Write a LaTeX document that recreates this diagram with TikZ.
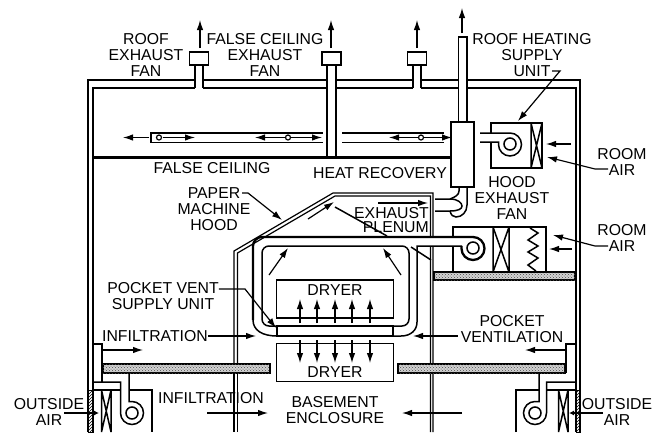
\documentclass[tikz,border=0pt]{standalone}
\usepackage{fontspec}
\setmainfont{Liberation Sans}
\usetikzlibrary{arrows.meta,patterns}
\tikzset{
    wall/.style={line width=1.5pt, line join=miter},
    thinwall/.style={line width=1.2pt},
    heavy/.style={line width=2.3pt},
    lbl/.style={align=center, inner sep=0pt, font=\fontsize{15.8}{16}\selectfont},
    airarrow/.style={line width=1.2pt, -{Latex[length=10pt,width=6.5pt]}},
    smallarrow/.style={line width=1.2pt, -{Latex[length=5pt,width=5pt]}},
    shelfbox/.style={draw, line width=1.5pt, fill=gray!35, postaction={pattern=crosshatch dots, pattern color=black!70}},
    hatchbox/.style={pattern=north east lines, line width=1pt, draw},
    ringnode/.style={draw, circle, line width=1.5pt, minimum size=12pt, inner sep=0pt},
    roofbox/.style={draw, line width=1.5pt, fill=white, minimum width=19pt, minimum height=13pt, inner sep=0pt},
    dryerbox/.style={draw, line width=1.5pt, minimum width=117pt, minimum height=38pt, inner sep=0pt},
}
\newcommand{\airflow}[3]{\coordinate (#1a) at (#2); \coordinate (#1b) at (#3); \draw[airarrow] (#1a) -- (#1b);}
\begin{document}
\begin{tikzpicture}[x=1pt, y=-1pt]
        \useasboundingbox (0,0) rectangle (653,432);
        \def\r{11.5}
        % Building shell
        \draw[wall] (88,432) -- (88,80) -- (195,80) (203,80) -- (327,80) (336,80) -- (413,80) (421,80) -- (458,80) (467,80) -- (580,80) -- (580,432);
        \draw[wall] (93,432) -- (93,88) -- (195,88) (203,88) -- (327,88) (336,88) -- (413,88) (421,88) -- (458,88) (467,88) -- (576,88) -- (576,432);
        % False ceiling and ducts
        \draw[heavy] (93,157.5) -- (451,157.5);
        \draw[heavy] (322.5,133) -- (151,133) -- (151,142.5);
        \draw[wall] (151,142.5) -- (322.5,142.5);
        \draw[heavy] (342,133) -- (444,133);
        \draw[wall] (342,142.5) -- (444,142.5);
        % Roof fans
        \foreach \x/\n in {199/A, 417/C} {
            \node[roofbox] (fan\n) at (\x,58.5) {};
            \draw[wall] (\x-4,65) -- (\x-4,88) (\x+4,65) -- (\x+4,88);
        }
        \node[roofbox] (fanB) at (331.5,58.5) {};
        \draw[heavy] (327,65) -- (327,157.5) (336,65) -- (336,157.5);
        % Heat recovery stack
        \draw[wall] (458.5,122) -- (458.5,37) -- (467,37) -- (467,122);
        \draw[wall, fill=white] (451,122) rectangle (474,187);
        \draw[heavy] (474,122) -- (474,187) -- (451,187);
        % Bend down to the plenum
        \draw[wall] (435,199) -- (450,199) .. controls (458,199) and (462,203) .. (462,206) .. controls (462,209) and (458,211) .. (450,211) -- (435,211);
        \draw[wall] (459,187) -- (459,191) .. controls (459,195) and (455,197) .. (450,199);
        \draw[wall] (467,187) -- (467,205) .. controls (467,212) and (462,217) .. (456,217) .. controls (453,217) and (451,215) .. (450,211);
        % Hood
        \draw[thinwall] (234,367) -- (234,251) -- (333,193) -- (433,193) -- (433,237) (433,246) -- (433,432);
        \draw[thinwall] (237.5,367) -- (237.5,253) -- (335,196) -- (430.5,196) -- (430.5,237) (430.5,246) -- (430.5,432);
        \draw[thinwall] (234,373) -- (234,432) (237.5,373) -- (237.5,432);
        \draw[wall] (335,207) -- (387,236) (411,247) -- (431,260);
        % Pocket ventilation ducts
        \draw[heavy, rounded corners=9pt] (473,237) -- (253,237) -- (253,320);
        \draw[wall] (253,320) .. controls (253,330) and (262,336) .. (277,336);
        \draw[wall, rounded corners=7pt] (277,326) -- (262,326) -- (262,246) -- (409,246) -- (409,326) -- (393,326);
        \draw[wall] (393,336) -- (401,336) .. controls (411,336) and (417,330) .. (417,322) -- (417,246) -- (462,246);
        % Supply box
        \draw[wall, fill=white] (277,326) rectangle (393,336);
        % Dryers
        \node[dryerbox] (dryerA) at (335,299) {};
        \node[lbl] (dryerAtxt) at (335,290) {DRYER};
        \node[dryerbox] (dryerB) at (335,362.5) {};
        \node[lbl] (dryerBtxt) at (335,372) {DRYER};
        % Shelves
        \draw[shelfbox] (103,364) rectangle (270,373);
        \draw[shelfbox] (398,364) rectangle (565,373);
        \draw[shelfbox] (434,272) rectangle (575,280);
        % Roof heating unit
        \draw[wall] (491,133) -- (491,123) -- (542,123) -- (542,168) -- (491,168) -- (491,142);
        \draw[wall] (531,123) -- (531,168) (531,123) -- (542,168) (542,123) -- (531,168);
        \draw[wall] (480,133) -- (510,133) arc[start angle=-90, end angle=180, radius=\r] -- (498.5,142) -- (480,142);
        \node[ringnode] (fanU) at (510,144) {};
        % Hood exhaust fan
        \draw[wall] (453,237) -- (453,227) -- (546,227) -- (546,272) -- (453,272) -- (453,246);
        \draw[wall] (493,227) -- (493,272) (509,227) -- (509,272) (493,227) -- (509,272) (509,227) -- (493,272);
        \draw[heavy] (473,237) arc[start angle=-90, end angle=180, radius=\r] -- (461.5,246);
        \node[ringnode] (fanH) at (473,248) {};
        \draw[wall] (530,228) -- (538,233) -- (528,240) -- (538,246) -- (528,252) -- (538,258) -- (528,265) -- (536,271);
        % Left outside air unit
        \draw[wall] (93,344) -- (102,344) -- (102,382);
        \draw[wall] (129,373) -- (129,401.5) -- (132,401.5) arc[start angle=-90, end angle=180, radius=\r] -- (120.5,382) -- (93,382);
        \draw[wall] (93,390) -- (121,390) (129,390) -- (152,390) -- (152,432);
        \node[ringnode] (fanL) at (132,413) {};
        \draw[wall] (101.5,390) -- (101.5,432) (111,390) -- (111,432) (101.5,390) -- (111,432) (111,390) -- (101.5,432);
        \draw[hatchbox] (88,390) rectangle (93,432);
        % Right outside air unit
        \draw[wall] (576,344) -- (566,344) -- (566,373);
        \draw[wall] (539,373) -- (539,401.5) -- (535,401.5) arc[start angle=270, end angle=0, radius=\r] -- (546.5,382) -- (576,382);
        \draw[wall] (516,432) -- (516,390) -- (539,390) (547,390) -- (576,390);
        \node[ringnode] (fanR) at (535,413) {};
        \draw[wall] (558.5,390) -- (558.5,432) (568,390) -- (568,432) (558.5,390) -- (568,432) (568,390) -- (558.5,432);
        \draw[hatchbox] (576,390) rectangle (580,432);
        % Labels
        \node[lbl] (roofFan) at (146,55) {ROOF\\EXHAUST\\FAN};
        \node[lbl] (ceilFan) at (265,55) {FALSE CEILING\\EXHAUST\\FAN};
        \node[lbl] (heatSupply) at (532,55) {ROOF HEATING\\SUPPLY\\UNIT};
        \node[lbl] (falseCeil) at (212,168) {FALSE CEILING};
        \node[lbl] (heatRec) at (380,173.5) {HEAT RECOVERY};
        \node[lbl] (hoodFan) at (512,198) {HOOD\\EXHAUST\\FAN};
        \node[lbl] (paperHood) at (214,209) {PAPER\\MACHINE\\HOOD};
        \node[lbl, align=right, anchor=east] (plenum) at (429,220) {EXHAUST\\[-1.5pt]PLENUM};
        \node[lbl] (roomTop) at (622,161.5) {ROOM\\AIR};
        \node[lbl] (roomLow) at (622,238) {ROOM\\AIR};
        \node[lbl] (pocketUnit) at (163,296) {POCKET VENT\\SUPPLY UNIT};
        \node[lbl] (infilTop) at (155,336) {INFILTRATION};
        \node[lbl] (pocketVent) at (512,329.5) {POCKET\\VENTILATION};
        \node[lbl] (infilLow) at (211,398) {INFILTRATION};
        \node[lbl] (basement) at (335,410) {BASEMENT\\ENCLOSURE};
        \node[lbl] (outLeft) at (49,412) {OUTSIDE\\AIR};
        \node[lbl] (outRight) at (617,412) {OUTSIDE\\AIR};
        % Label leaders
        \coordinate (unitEnd) at (552,71);
        \coordinate (paperEnd) at (242,193);
        \coordinate (roomTopEnd) at (608,169);
        \coordinate (roomLowEnd) at (608,246);
        \draw[airarrow] (unitEnd) -- (560,71) -- (518,121);
        \draw[airarrow] (roomTopEnd) -- (595,169) -- (547,157);
        \draw[airarrow] (roomLowEnd) -- (595,246) -- (553,235);
        \draw[airarrow] (paperEnd) -- (248,193) -- (282,220);
        \draw[airarrow] (pocketUnit.east |- 0,289) -- (245,289) -- (276,328);
        \draw[airarrow] (infilTop.east) -- (256,336);
        \draw[airarrow] ([xshift=-3pt]pocketVent.west |- 0,336) -- (413,336);
        \draw[smallarrow] (64,413) -- (99,413);
        \draw[smallarrow] (603,413) -- (569,413);
        % Air flows
        \airflow{upA}{200,48}{200,20}
        \airflow{upB}{331,48}{331,20}
        \airflow{upC}{417,48}{417,20}
        \airflow{upD}{462,33}{462,8}
        \airflow{ductA}{149,137.5}{123,137.5}
        \airflow{ductB}{163,137.5}{195,137.5}
        \airflow{ductC}{285,137.5}{255,137.5}
        \airflow{ductD}{291,137.5}{322,137.5}
        \airflow{ductE}{418,137.5}{389,137.5}
        \airflow{ductF}{424,137.5}{452,137.5}
        \airflow{roomA}{571,144}{546,144}
        \airflow{roomB}{572,249}{549,249}
        \airflow{hoodA}{308,219}{334,202}
        \airflow{hoodB}{378,203}{428,203}
        \airflow{hoodC}{269,275}{288,248}
        \airflow{hoodD}{401,275}{383,248}
        \airflow{wallA}{103,350}{143,350}
        \airflow{wallB}{565,350}{525,350}
        \airflow{baseA}{207,413}{268,413}
        \airflow{baseB}{462,413}{402,413}
        \foreach \x [count=\i] in {300,317,335,352,370} {
            \airflow{dry\i}{\x,323}{\x,299}
            \airflow{wet\i}{\x,340}{\x,363}
        }
        % Duct grilles
        \foreach \x/\n in {159/G, 288/H, 421/K} {
            \node[draw, circle, fill=white, line width=1.2pt, minimum size=5pt, inner sep=0pt] (ring\n) at (\x,137.5) {};
        }
    \end{tikzpicture}
\end{document}
